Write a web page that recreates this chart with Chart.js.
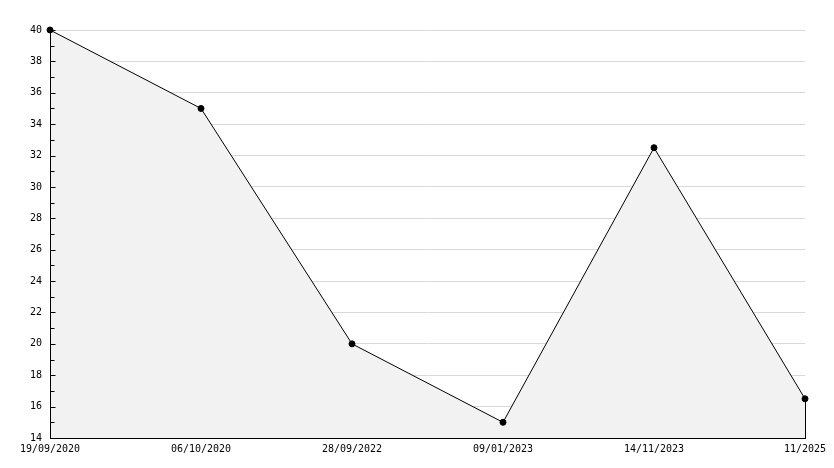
<!DOCTYPE html>
<html>
<head>
<meta charset="utf-8">
<script src="https://cdn.jsdelivr.net/npm/chart.js@4"></script>
<style>
  html, body { margin: 0; padding: 0; background: #fff; }
  #wrap { width: 834px; height: 468px; }
</style>
</head>
<body>
<div id="wrap"><canvas id="chart" width="834" height="468"></canvas></div>
<script>
const dates = ["19/09/2020", "06/10/2020", "28/09/2022", "09/01/2023", "14/11/2023", "11/2025"];
const values = [40, 35, 20, 15, 32.5, 16.5];
const yMin = 14;
const yMax = 40;

// y axis line, inward tick marks and closing edge of the filled area
const extras = {
  id: "extras",
  afterDatasetsDraw(chart) {
    const ctx = chart.ctx;
    const y = chart.scales.y;
    const x = chart.scales.x;
    const area = chart.chartArea;
    const ax = Math.round(area.left) + 0.5;
    ctx.save();
    ctx.strokeStyle = "#000";
    ctx.lineWidth = 1;
    ctx.beginPath();
    ctx.moveTo(ax, y.getPixelForValue(yMax));
    ctx.lineTo(ax, y.getPixelForValue(yMin) + 0.5);
    for (let v = yMin; v <= yMax; v++) {
      const py = Math.round(y.getPixelForValue(v)) + 0.5;
      const len = v % 2 === 0 ? 5 : 4;
      ctx.moveTo(ax, py);
      ctx.lineTo(ax + len, py);
    }
    const last = values.length - 1;
    const lx = Math.round(x.getPixelForValue(last)) + 0.5;
    ctx.moveTo(lx, y.getPixelForValue(values[last]));
    ctx.lineTo(lx, y.getPixelForValue(yMin));
    ctx.stroke();
    ctx.restore();
  }
};

new Chart(document.getElementById("chart"), {
  type: "line",
  data: {
    labels: dates,
    datasets: [{
      data: values,
      borderColor: "#000",
      borderWidth: 1,
      backgroundColor: "#f2f2f2",
      fill: "start",
      tension: 0,
      clip: false,
      pointRadius: 3,
      pointBackgroundColor: "#000",
      pointBorderColor: "#000",
      pointBorderWidth: 1,
      pointStyle: "circle"
    }]
  },
  options: {
    responsive: false,
    animation: false,
    layout: { padding: { top: 30, right: 29, left: 0, bottom: 0 } },
    plugins: { legend: { display: false }, tooltip: { enabled: false } },
    scales: {
      x: {
        offset: false,
        grid: { display: false, drawTicks: false },
        border: { display: true, color: "#000", width: 1 },
        ticks: {
          color: "#000",
          font: { family: "DejaVu Sans Mono", size: 10 },
          maxRotation: 0,
          autoSkip: false,
          padding: 5
        },
        afterFit(s) { s.height = 30; }
      },
      y: {
        min: yMin,
        max: yMax,
        grid: {
          drawTicks: false,
          color: (c) => (c.tick && c.tick.value % 2 === 0 && c.tick.value !== yMin) ? "#d9d9d9" : "transparent"
        },
        border: { display: false },
        ticks: {
          stepSize: 1,
          autoSkip: false,
          color: "#000",
          font: { family: "DejaVu Sans Mono", size: 10 },
          padding: 8,
          callback: (v) => (v % 2 === 0 ? v : "")
        },
        afterFit(s) { s.width = 50; }
      }
    }
  },
  plugins: [extras]
});
</script>
</body>
</html>
